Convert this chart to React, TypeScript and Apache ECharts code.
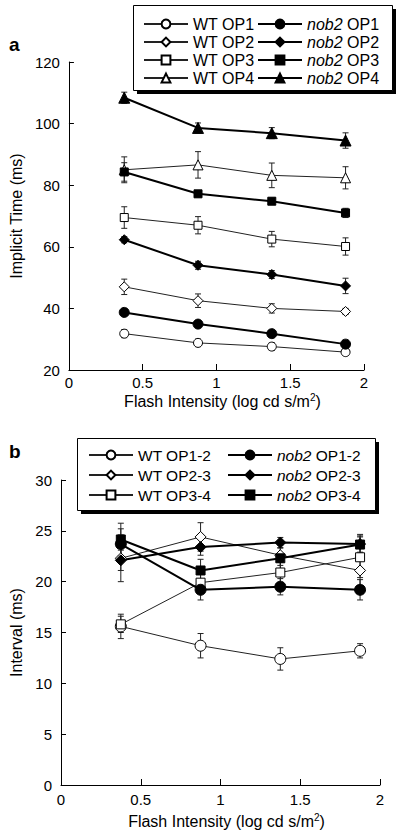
import React, { useEffect, useRef } from "react";
import * as echarts from "echarts";

const FONT = "'Liberation Sans', Arial, Helvetica, sans-serif";

const X = [0.375, 0.875, 1.375, 1.875];
const xTicks = [0, 0.5, 1, 1.5, 2];

// Panel a: implicit time (ms)
const wtOP1 = [31.8, 28.8, 27.6, 25.8];
const wtOP1Err = [1.3, 1.2, 1.2, 1.0];
const wtOP2 = [47.0, 42.5, 40.0, 39.0];
const wtOP2Err = [2.5, 2.2, 1.5, 1.0];
const wtOP3 = [69.5, 67.0, 62.5, 60.1];
const wtOP3Err = [3.5, 2.8, 2.5, 2.8];
const wtOP4 = [85.0, 86.6, 83.2, 82.4];
const wtOP4Err = [4.2, 4.3, 4.0, 3.6];
const nobOP1 = [38.7, 34.9, 31.8, 28.4];
const nobOP1Err = [0.8, 0.8, 0.8, 1.0];
const nobOP2 = [62.3, 54.0, 51.0, 47.3];
const nobOP2Err = [1.0, 1.3, 1.3, 2.5];
const nobOP3 = [84.3, 77.2, 74.8, 71.0];
const nobOP3Err = [3.0, 1.0, 1.0, 1.5];
const nobOP4 = [108.4, 98.6, 96.9, 94.5];
const nobOP4Err = [1.8, 1.6, 1.8, 2.5];

// Panel b: interval (ms)
const wt12 = [15.6, 13.7, 12.4, 13.2];
const wt12Err = [1.2, 1.2, 1.1, 0.7];
const wt23 = [22.3, 24.4, 22.6, 21.1];
const wt23Err = [2.3, 1.4, 1.0, 1.5];
const wt34 = [15.8, 19.9, 20.9, 22.4];
const wt34Err = [0.8, 1.0, 1.0, 2.0];
const nob12 = [23.7, 19.2, 19.5, 19.2];
const nob12Err = [1.5, 1.0, 0.8, 1.0];
const nob23 = [22.1, 23.4, 23.85, 23.7];
const nob23Err = [1.0, 0.8, 0.5, 0.8];
const nob34 = [24.15, 21.1, 22.3, 23.65];
const nob34Err = [1.6, 1.1, 1.0, 1.0];

type S = { name: string; vals: number[]; err: number[]; symbol: string; open: boolean; size: number };

const panelA: S[] = [
  { name: "WT OP1", vals: wtOP1, err: wtOP1Err, symbol: "circle", open: true, size: 9 },
  { name: "WT OP2", vals: wtOP2, err: wtOP2Err, symbol: "diamond", open: true, size: 10 },
  { name: "WT OP3", vals: wtOP3, err: wtOP3Err, symbol: "rect", open: true, size: 8 },
  { name: "WT OP4", vals: wtOP4, err: wtOP4Err, symbol: "triangle", open: true, size: 10 },
  { name: "nob2 OP1", vals: nobOP1, err: nobOP1Err, symbol: "circle", open: false, size: 10 },
  { name: "nob2 OP2", vals: nobOP2, err: nobOP2Err, symbol: "diamond", open: false, size: 10 },
  { name: "nob2 OP3", vals: nobOP3, err: nobOP3Err, symbol: "rect", open: false, size: 8 },
  { name: "nob2 OP4", vals: nobOP4, err: nobOP4Err, symbol: "triangle", open: false, size: 11 },
];

const panelB: S[] = [
  { name: "WT OP1-2", vals: wt12, err: wt12Err, symbol: "circle", open: true, size: 11 },
  { name: "WT OP2-3", vals: wt23, err: wt23Err, symbol: "diamond", open: true, size: 11 },
  { name: "WT OP3-4", vals: wt34, err: wt34Err, symbol: "rect", open: true, size: 9 },
  { name: "nob2 OP1-2", vals: nob12, err: nob12Err, symbol: "circle", open: false, size: 11 },
  { name: "nob2 OP2-3", vals: nob23, err: nob23Err, symbol: "diamond", open: false, size: 11 },
  { name: "nob2 OP3-4", vals: nob34, err: nob34Err, symbol: "rect", open: false, size: 9 },
];

function buildSeries(list: S[], axis: number): any[] {
  const out: any[] = [];
  list.forEach((s) => {
    out.push({
      type: "custom",
      name: s.name + " err",
      xAxisIndex: axis,
      yAxisIndex: axis,
      z: 2,
      silent: true,
      data: X.map((x, i) => [x, s.vals[i] - s.err[i], s.vals[i] + s.err[i]]),
      encode: { x: 0, y: [1, 2] },
      renderItem: (params: any, api: any) => {
        const x = api.value(0);
        const p1 = api.coord([x, api.value(2)]);
        const p2 = api.coord([x, api.value(1)]);
        const w = 3;
        const st = { stroke: "#222", lineWidth: 1 };
        return {
          type: "group",
          children: [
            { type: "line", shape: { x1: p1[0], y1: p1[1], x2: p2[0], y2: p2[1] }, style: st },
            { type: "line", shape: { x1: p1[0] - w, y1: p1[1], x2: p1[0] + w, y2: p1[1] }, style: st },
            { type: "line", shape: { x1: p2[0] - w, y1: p2[1], x2: p2[0] + w, y2: p2[1] }, style: st },
          ],
        };
      },
    });
    out.push({
      type: "line",
      name: s.name,
      xAxisIndex: axis,
      yAxisIndex: axis,
      z: 3,
      data: X.map((x, i) => [x, s.vals[i]]),
      symbol: s.symbol,
      symbolSize: s.size,
      showAllSymbol: true,
      lineStyle: { color: s.open ? "#222" : "#000", width: s.open ? 1 : 2 },
      itemStyle: s.open
        ? { color: "#fff", borderColor: "#000", borderWidth: 1 }
        : { color: "#000", borderColor: "#000", borderWidth: 1 },
      emphasis: { disabled: true },
    });
  });
  return out;
}

const nameRich = {
  n: { fontSize: 16, fontFamily: FONT, color: "#000" },
  sup: { fontSize: 10, fontFamily: FONT, color: "#000", padding: [0, 0, 9, 0] },
};

function legendFmt(name: string) {
  if (name.startsWith("nob2")) return `{i|nob2}{r|${name.slice(4)}}`;
  return `{r|${name}}`;
}

function makeLegend(data: string[], left: number, top: number, fs: number, lh: number) {
  return {
    data,
    left,
    top,
    orient: "vertical",
    itemWidth: 44,
    itemHeight: 11,
    itemGap: 0,
    selectedMode: false,
    padding: 0,
    formatter: legendFmt,
    textStyle: {
      fontFamily: FONT,
      fontSize: fs,
      fontWeight: "normal",
      lineHeight: lh,
      color: "#000",
      rich: {
        i: { fontStyle: "italic", fontWeight: "normal", fontSize: fs, fontFamily: FONT, lineHeight: lh, color: "#000" },
        r: { fontSize: fs, fontWeight: "normal", fontFamily: FONT, lineHeight: lh, color: "#000" },
      },
    },
  };
}

function xAxisCfg(grid: number, margin: number, gap: number) {
  return {
    type: "value",
    gridIndex: grid,
    min: 0,
    max: 2,
    interval: 0.5,
    name: "{n|Flash Intensity (log cd s/m}{sup|2}{n|)}",
    nameLocation: "middle",
    nameGap: gap,
    nameTextStyle: { rich: nameRich, padding: [0, 0, 0, 12] },
    axisLine: { lineStyle: { color: "#000", width: 1 } },
    axisTick: { inside: true, length: 6, lineStyle: { color: "#000" } },
    axisLabel: { color: "#000", fontSize: 15, fontFamily: FONT, margin },
    splitLine: { show: false },
  };
}

function yAxisCfg(grid: number, min: number, max: number, interval: number, name: string, gap: number) {
  return {
    type: "value",
    gridIndex: grid,
    min,
    max,
    interval,
    name,
    nameLocation: "middle",
    nameGap: gap,
    nameTextStyle: { color: "#000", fontSize: 16, fontFamily: FONT },
    axisLine: { show: true, lineStyle: { color: "#000", width: 1 } },
    axisTick: { show: true, inside: true, length: 5, lineStyle: { color: "#000" } },
    axisLabel: { color: "#000", fontSize: 15, fontFamily: FONT, margin: 9 },
    splitLine: { show: false },
  };
}

export default function App() {
  const ref = useRef<HTMLDivElement>(null);
  useEffect(() => {
    if (!ref.current) return;
    const chart = echarts.init(ref.current, undefined, { renderer: "svg" });
    const option: any = {
      animation: false,
      backgroundColor: "#fff",
      textStyle: { fontFamily: FONT },
      grid: [
        { left: 57, top: 62, width: 307, height: 308 },
        { left: 56, top: 480, width: 324, height: 305 },
      ],
      xAxis: [xAxisCfg(0, 5, 22), xAxisCfg(1, 7, 27)],
      yAxis: [
        yAxisCfg(0, 20, 120, 20, "Implicit Time (ms)", 40),
        yAxisCfg(1, 0, 30, 5, "Interval (ms)", 37),
      ],
      legend: [
        makeLegend(panelA.slice(0, 4).map((s) => s.name), 143, 15, 16, 18),
        makeLegend(panelA.slice(4).map((s) => s.name), 257, 15, 16, 18),
        makeLegend(panelB.slice(0, 3).map((s) => s.name), 88, 445, 15.5, 20),
        makeLegend(panelB.slice(3).map((s) => s.name), 227, 445, 15.5, 20),
      ],
      graphic: [
        { type: "rect", z: -10, shape: { x: 137, y: 9, width: 259, height: 85 }, style: { fill: "#000" } },
        { type: "rect", z: -9, shape: { x: 133.5, y: 5.5, width: 259, height: 85 }, style: { fill: "#fff", stroke: "#000", lineWidth: 1 } },
        { type: "rect", z: -10, shape: { x: 81, y: 442, width: 298, height: 72 }, style: { fill: "#000" } },
        { type: "rect", z: -9, shape: { x: 77.5, y: 438.5, width: 298, height: 72 }, style: { fill: "#fff", stroke: "#000", lineWidth: 1 } },
        { type: "text", left: 9, top: 35, style: { text: "a", font: `bold 19px ${FONT}`, fill: "#000" } },
        { type: "text", left: 9, top: 442, style: { text: "b", font: `bold 19px ${FONT}`, fill: "#000" } },
      ],
      series: [...buildSeries(panelA, 0), ...buildSeries(panelB, 1)],
    };
    chart.setOption(option);
    return () => chart.dispose();
  }, []);
  return (
    <div
      ref={ref}
      style={{ position: "fixed", left: 0, top: 0, width: 400, height: 836, background: "#fff" }}
    />
  );
}
